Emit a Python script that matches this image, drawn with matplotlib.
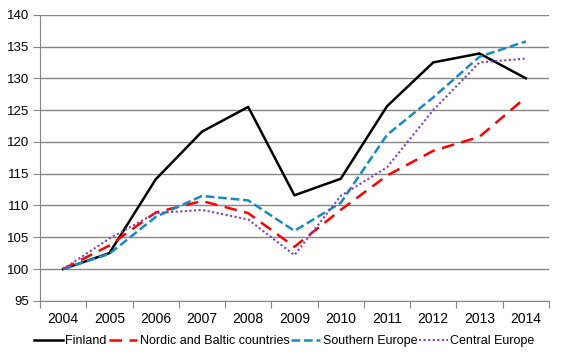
import numpy as np
import matplotlib.pyplot as plt

plt.rcParams['font.family'] = ['Liberation Sans', 'DejaVu Sans']

years = ['2004', '2005', '2006', '2007', '2008', '2009', '2010', '2011', '2012', '2013', '2014']
finland = [100, 102.5, 114.1, 121.6, 125.5, 111.6, 114.2, 125.6, 132.5, 133.9, 130.0]
nordic = [100, 103.7, 108.9, 110.7, 108.8, 103.5, 109.3, 114.7, 118.6, 120.8, 127.0]
southern = [100, 102.4, 108.2, 111.5, 110.8, 106.0, 110.4, 121.1, 127.0, 133.4, 135.8]
central = [100, 104.8, 108.8, 109.3, 107.8, 102.2, 111.5, 116.0, 125.0, 132.5, 133.1]

x = np.arange(len(years))

fig = plt.figure(figsize=(5.63, 3.59), dpi=100, facecolor='w')
ax = fig.add_axes([0.071, 0.162, 0.904, 0.797])

ax.plot(x, finland, color='black', lw=1.8, label='Finland')
ax.plot(x, nordic, color='#ff0000', lw=1.8, dashes=(5, 3), label='Nordic and Baltic countries')
ax.plot(x, southern, color='#1a8bbf', lw=1.8, dashes=(3.5, 1.5), label='Southern Europe')
ax.plot(x, central, color='#7f3fbf', lw=1.5, dashes=(1, 1.2), label='Central Europe')

ax.set_xlim(-0.5, len(years) - 0.5)
ax.set_ylim(95, 140)
ax.set_yticks(np.arange(95, 141, 5))
ax.set_xticks(np.arange(-0.5, len(years), 1))
ax.set_xticklabels([])
ax.set_xticks(x, minor=True)
ax.set_xticklabels(years, minor=True)
ax.tick_params(axis='x', which='minor', length=0, pad=8)
ax.tick_params(axis='x', which='major', length=5, color='#868686')
ax.tick_params(axis='y', length=5, color='#868686', pad=3)
ax.tick_params(labelsize=9.5)

ax.grid(axis='y', color='#868686', lw=1)
ax.set_axisbelow(True)
for s in ('top', 'right'):
    ax.spines[s].set_visible(False)
for s in ('left', 'bottom'):
    ax.spines[s].set_color('#868686')

ax.legend(loc='center', bbox_to_anchor=(0.48, -0.14), ncol=4, frameon=False,
          fontsize=9, handlelength=2.3, handletextpad=0.2, columnspacing=0.15,
          borderpad=0)

fig.savefig('out.png', dpi=100)
